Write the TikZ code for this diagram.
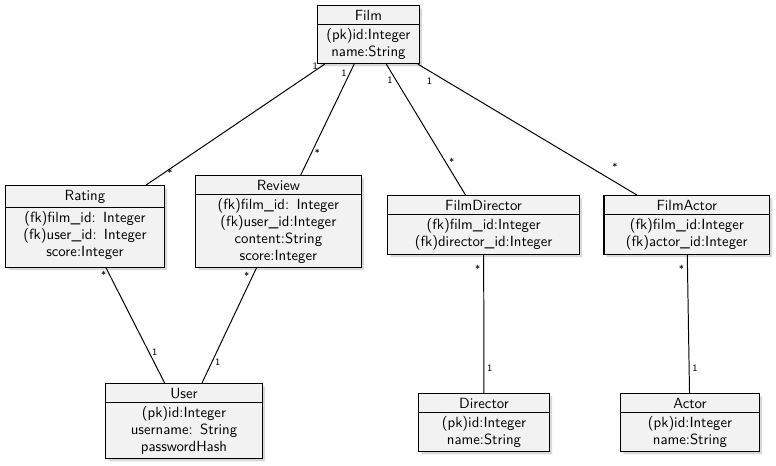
\documentclass[tikz,border=0pt]{standalone}
\usepackage{tikz}
\usetikzlibrary{shapes.multipart, shadows}

\begin{document}
\begin{tikzpicture}[font=\sffamily\fontsize{10.5}{12}\selectfont,
    entity/.style={rectangle split, rectangle split parts=2, draw, line width=0.9pt,
      fill=gray!10, drop shadow={shadow xshift=2pt, shadow yshift=-2pt, opacity=0.3},
      align=center, inner xsep=2pt, inner ysep=2.5pt, anchor=north},
    link/.style={line width=0.7pt},
    mult/.style={font=\sffamily\scriptsize, inner sep=2pt}]
  \useasboundingbox (0,0) rectangle (19.4,-11.625);

  \node[entity, text width=2.4cm] (film) at (9.21,-0.125)
    {Film \nodepart{two} (pk)id:Integer\\ name:String\rule[-2pt]{0pt}{2pt}};
  \node[entity, text width=3.83cm] (rating) at (2.125,-4.625)
    {Rating \nodepart{two} (fk)film\_id: Integer\\ (fk)user\_id: Integer\\ score:Integer\rule[-5pt]{0pt}{5pt}};
  \node[entity, text width=4.0cm] (review) at (6.96,-4.375)
    {Review \nodepart{two} (fk)film\_id: Integer\\ (fk)user\_id:Integer\\ content:String\\ score:Integer};
  \node[entity, text width=4.65cm] (fdirector) at (12.09,-4.875)
    {FilmDirector \nodepart{two} (fk)film\_id:Integer\\ (fk)director\_id:Integer};
  \node[entity, text width=4.0cm] (factor) at (17.17,-4.875)
    {FilmActor \nodepart{two} (fk)film\_id:Integer\\ (fk)actor\_id:Integer};
  \node[entity, text width=3.78cm] (user) at (4.6,-9.575)
    {User \nodepart{two} (pk)id:Integer\\ username: String\\ passwordHash};
  \node[entity, text width=3.13cm] (director) at (12.1,-9.825)
    {Director \nodepart{two} (pk)id:Integer\\ name:String};
  \node[entity, text width=3.33cm] (actor) at (17.25,-9.825)
    {Actor \nodepart{two} (pk)id:Integer\\ name:String};

  \draw[link] (film) -- node[mult, pos=0.02, left] {1} node[mult, pos=0.9, right] {*} (rating);
  \draw[link] (film) -- node[mult, pos=0.08, left] {1} node[mult, pos=0.8, right] {*} (review);
  \draw[link] (film) -- node[mult, pos=0.12, left] {1} node[mult, pos=0.75, right] {*} (fdirector);
  \draw[link] (film) -- node[mult, pos=0.08, below left] {1} node[mult, pos=0.9, above=6pt] {*} (factor);
  \draw[link] (rating) -- node[mult, pos=0.06, left] {*} node[mult, pos=0.73, right] {1} (user);
  \draw[link] (review) -- node[mult, pos=0.07, left] {*} node[mult, pos=0.82, right] {1} (user);
  \draw[link] (fdirector) -- node[mult, pos=0.1, left] {*} node[mult, pos=0.82, right] {1} (director);
  \draw[link] (factor) -- node[mult, pos=0.1, left] {*} node[mult, pos=0.82, right] {1} (actor);
\end{tikzpicture}
\end{document}
